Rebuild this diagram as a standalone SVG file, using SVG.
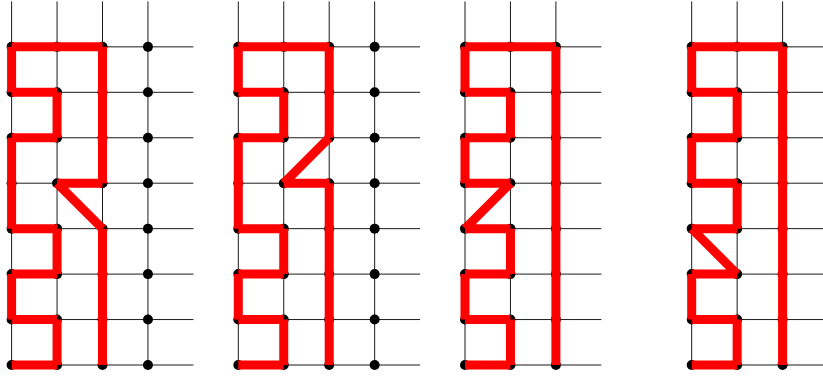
<svg xmlns="http://www.w3.org/2000/svg" xmlns:xlink="http://www.w3.org/1999/xlink" width="823" height="378" viewBox="0 0 823 378">
<style>
.grid{stroke:#000;stroke-width:0.9;fill:none}
.dot{fill:#000}
.walk{stroke:#ff0000;stroke-width:9;stroke-linecap:butt;fill:none}
</style>
<defs>
<path id="grid4" class="grid" d="M0 1.4V365M45.45 1.4V365M90.9 1.4V365M136.35 1.4V365M0 46.85H181.8M0 92.3H181.8M0 137.75H181.8M0 183.2H181.8M0 228.65H181.8M0 274.1H181.8M0 319.55H181.8M0 365H181.8"/>
<path id="grid3" class="grid" d="M0 1.4V365M45.45 1.4V365M90.9 1.4V365M0 46.85H136.35M0 92.3H136.35M0 137.75H136.35M0 183.2H136.35M0 228.65H136.35M0 274.1H136.35M0 319.55H136.35M0 365H136.35"/>
<g id="col">
<circle class="dot" cx="0" cy="46.85" r="5"/>
<circle class="dot" cx="0" cy="92.3" r="5"/>
<circle class="dot" cx="0" cy="137.75" r="5"/>
<circle class="dot" cx="0" cy="183.2" r="5"/>
<circle class="dot" cx="0" cy="228.65" r="5"/>
<circle class="dot" cx="0" cy="274.1" r="5"/>
<circle class="dot" cx="0" cy="319.55" r="5"/>
<circle class="dot" cx="0" cy="365" r="5"/>
</g>
</defs>

<g id="panel1" transform="translate(11.6,0)">
<use xlink:href="#grid4"/>
<g id="panel1-nodes">
<use xlink:href="#col"/>
<use xlink:href="#col" x="45.45"/>
<use xlink:href="#col" x="90.9"/>
<use xlink:href="#col" x="136.35"/>
</g>
<g id="panel1-connectors">
<path class="walk" d="M0 46.85H90.9M0 46.85V92.3M0 92.3H45.45M45.45 92.3V137.75M45.45 137.75H0M0 137.75V228.65M0 228.65H45.45M45.45 228.65V274.1M45.45 274.1H0M0 274.1V319.55M0 319.55H45.45M45.45 319.55V365M45.45 365H0M90.9 46.85V183.2M90.9 183.2H45.45M45.45 183.2L90.9 228.65M90.9 228.65V365"/>
</g>
</g>

<g id="panel2" transform="translate(238.3,0)">
<use xlink:href="#grid4"/>
<g id="panel2-nodes">
<use xlink:href="#col"/>
<use xlink:href="#col" x="45.45"/>
<use xlink:href="#col" x="90.9"/>
<use xlink:href="#col" x="136.35"/>
</g>
<g id="panel2-connectors">
<path class="walk" d="M0 46.85H90.9M0 46.85V92.3M0 92.3H45.45M45.45 92.3V137.75M45.45 137.75H0M0 137.75V228.65M0 228.65H45.45M45.45 228.65V274.1M45.45 274.1H0M0 274.1V319.55M0 319.55H45.45M45.45 319.55V365M45.45 365H0M90.9 46.85V137.75M90.9 137.75L45.45 183.2M45.45 183.2H90.9M90.9 183.2V365"/>
</g>
</g>

<g id="panel3" transform="translate(465,0)">
<use xlink:href="#grid3"/>
<g id="panel3-nodes">
<use xlink:href="#col"/>
<use xlink:href="#col" x="45.45"/>
<use xlink:href="#col" x="90.9"/>
</g>
<g id="panel3-connectors">
<path class="walk" d="M0 46.85H90.9M90.9 46.85V365M0 46.85V92.3M0 92.3H45.45M45.45 92.3V137.75M45.45 137.75H0M0 137.75V183.2M0 183.2H45.45M45.45 183.2L0 228.65M0 228.65H45.45M45.45 228.65V274.1M45.45 274.1H0M0 274.1V319.55M0 319.55H45.45M45.45 319.55V365M45.45 365H0"/>
</g>
</g>

<g id="panel4" transform="translate(691.7,0)">
<use xlink:href="#grid3"/>
<g id="panel4-nodes">
<use xlink:href="#col"/>
<use xlink:href="#col" x="45.45"/>
<use xlink:href="#col" x="90.9"/>
</g>
<g id="panel4-connectors">
<path class="walk" d="M0 46.85H90.9M90.9 46.85V365M0 46.85V92.3M0 92.3H45.45M45.45 92.3V137.75M45.45 137.75H0M0 137.75V183.2M0 183.2H45.45M45.45 183.2V228.65M45.45 228.65H0M0 228.65L45.45 274.1M45.45 274.1H0M0 274.1V319.55M0 319.55H45.45M45.45 319.55V365M45.45 365H0"/>
</g>
</g>
</svg>
